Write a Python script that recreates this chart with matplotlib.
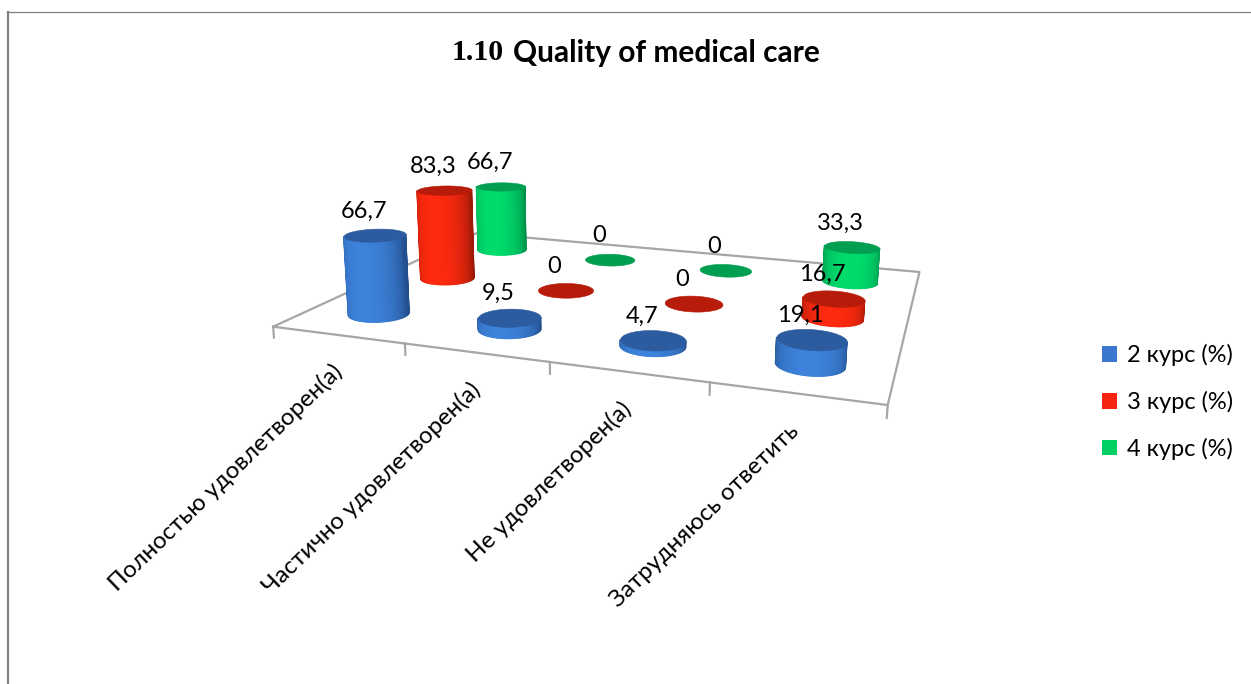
import numpy as np
import matplotlib
matplotlib.use('Agg')
import matplotlib.pyplot as plt
from matplotlib.lines import Line2D
from matplotlib.patches import Patch
from mpl_toolkits.mplot3d import proj3d
from mpl_toolkits.mplot3d.art3d import Poly3DCollection

plt.rcParams['font.family'] = ['Lato', 'Noto Sans', 'DejaVu Sans']

# data
categories = ['Полностью удовлетворен(а)', 'Частично удовлетворен(а)', 'Не удовлетворен(а)', 'Затрудняюсь ответить']
series_names = ['2 курс (%)', '3 курс (%)', '4 курс (%)']
kurs2 = [66.7, 9.5, 4.7, 19.1]
kurs3 = [83.3, 0, 0, 16.7]
kurs4 = [66.7, 0, 0, 33.3]
title_num = '1.10'
title_text = 'Quality of medical care'

# light, dark, cap colours of each series
light = ['#3D83DC', '#FF2A10', '#00DC6C']
dark = ['#234F8E', '#9C1A08', '#00904A']
caps = ['#2C5C9F', '#B71C0A', '#009E50']
legend_cols = ['#3A78CF', '#F5230F', '#00CF63']

W, H = 1251, 684
fig = plt.figure(figsize=(W / 100, H / 100), dpi=100)
# view found by fitting the floor corners of the original picture
ax = fig.add_axes([(619.4 - 342) / W, (H - 250.6 - 342) / H, H / W, 1], projection='3d')
ax.set_xlim(0, 4)
ax.set_ylim(0, 3)
ax.set_zlim(0, 100)
ax.view_init(elev=13.42, azim=-71.44, roll=-0.45)
ax.set_proj_type('persp', focal_length=0.2774)
ax.set_box_aspect((1.347, 1, 0.2835), zoom=0.9808)
ax.set_axis_off()
ax.computed_zorder = False
M = ax.get_proj()

# floor
grey = '#A6A6A6'
n_cat = len(categories)
n_ser = len(series_names)
ax.plot([0, n_cat, n_cat, 0, 0], [0, 0, n_ser, n_ser, 0], [0, 0, 0, 0, 0], color=grey, lw=1.6, zorder=1, clip_on=False)
for i in range(n_cat + 1):
    ax.plot([i, i], [0, 0], [0, -9], color=grey, lw=1.6, zorder=1, clip_on=False)

rx = 0.21
ry = 0.2
# start behind the cylinder so the visible arc stays in one piece
angles = np.radians(np.linspace(90, 450, 73))
light_dir = np.radians(-85)


def mix(c1, c2, t):
    a = np.array(matplotlib.colors.to_rgb(c1))
    b = np.array(matplotlib.colors.to_rgb(c2))
    return tuple(a + (b - a) * t)


def faces_viewer(p0, p1, p2):
    # winding of the projected facet tells if it looks at the camera
    a = proj3d.proj_transform(*p0, M)
    b = proj3d.proj_transform(*p1, M)
    c = proj3d.proj_transform(*p2, M)
    return (b[0] - a[0]) * (c[1] - a[1]) - (b[1] - a[1]) * (c[0] - a[0]) > 0


def cylinder(xc, yc, h, s, z):
    xs = xc + rx * np.cos(angles)
    ys = yc + ry * np.sin(angles)
    if h > 0:
        verts = []
        cols = []
        bottom = []
        upper = []
        for k in range(len(angles) - 1):
            p0 = (xs[k], ys[k], 0)
            p1 = (xs[k + 1], ys[k + 1], 0)
            p2 = (xs[k + 1], ys[k + 1], h)
            if not faces_viewer(p0, p1, p2):
                continue
            p3 = (xs[k], ys[k], h)
            verts.append([p0, p1, p2, p3])
            bottom += [p0, p1]
            upper += [p3, p2]
            t = max(np.cos((angles[k] + angles[k + 1]) / 2 - light_dir), 0) ** 0.8
            cols.append(mix(dark[s], light[s], t))
        under = Poly3DCollection([bottom + upper[::-1]], facecolors=dark[s], edgecolors='none', zorder=z - 0.1, clip_on=False)
        ax.add_collection3d(under, autolim=False)
        side = Poly3DCollection(verts, facecolors=cols, edgecolors=cols, linewidths=0.8, zorder=z, clip_on=False)
        side.set_snap(False)
        ax.add_collection3d(side, autolim=False)
    top = Poly3DCollection([list(zip(xs, ys, np.full(len(xs), h)))], facecolors=caps[s], edgecolors=caps[s], linewidths=0.4, zorder=z + 0.1, clip_on=False)
    ax.add_collection3d(top, autolim=False)


# back series first so that the front ones cover them
all_series = [kurs2, kurs3, kurs4]
for s in range(n_ser - 1, -1, -1):
    for i, v in enumerate(all_series[s]):
        cylinder(i + 0.5, s + 0.5, v, s, 10 - s)

# value labels
for s in range(n_ser):
    for i, v in enumerate(all_series[s]):
        x2, y2, _ = proj3d.proj_transform(i + 0.5, s + 0.5, v, M)
        ax.annotate(str(v).replace('.', ',') if v else '0', xy=(x2, y2), xytext=(-11, 24), textcoords='offset pixels',
                    ha='center', va='center', fontsize=17, color='black', zorder=30, annotation_clip=False)

# category labels
for i, name in enumerate(categories):
    x2, y2, _ = proj3d.proj_transform(i + 0.5, 0, -13, M)
    ax.annotate(name, xy=(x2, y2), xytext=(-7, -9), textcoords='offset pixels', ha='right', va='top', rotation=44,
                rotation_mode='anchor', fontsize=17.3, color='black', zorder=30, annotation_clip=False)

# title
fig.text(452 / W, 1 - 53 / H, title_num, family='Liberation Serif', weight='bold', fontsize=21.5, va='center', ha='left')
fig.text(513 / W, 1 - 53 / H, title_text, weight='bold', fontsize=21.5, va='center', ha='left')

# legend
handles = [Patch(facecolor=c, edgecolor='none') for c in legend_cols]
fs = 17
fig.legend(handles, series_names, loc='center left', bbox_to_anchor=(1102 / W, 1 - 402 / H), frameon=False,
           fontsize=fs, handlelength=10.8 / fs, handleheight=10.8 / fs, handletextpad=0.42,
           labelspacing=(34.9 - fs) / fs, borderpad=0, borderaxespad=0)

# frame of the original screenshot
fig.add_artist(Line2D([7.5 / W, 7.5 / W], [0, 1 - 11.5 / H], color='#808080', lw=1.6))
fig.add_artist(Line2D([7 / W, 1], [1 - 11.5 / H, 1 - 11.5 / H], color='#808080', lw=0.9))

fig.savefig('out.png', dpi=100)
